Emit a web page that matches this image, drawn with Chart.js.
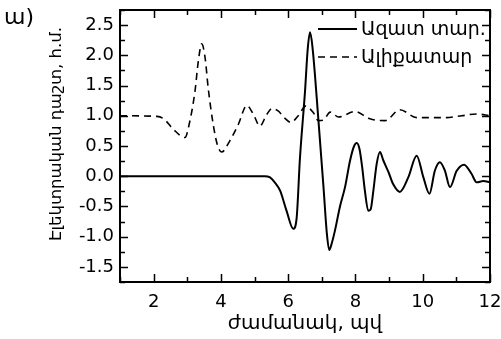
<!DOCTYPE html>
<html>
<head>
<meta charset="utf-8">
<script src="https://cdn.jsdelivr.net/npm/chart.js@4/dist/chart.umd.min.js"></script>
<style>
  html, body { margin: 0; padding: 0; background: #fff; }
  #wrap { width: 501px; height: 339px; }
</style>
</head>
<body>
<div id="wrap"><canvas id="c" width="501" height="339"></canvas></div>
<script>
// free space pulse (solid)
const freeX = [1, 5.3, 5.46, 5.6, 5.76, 5.95, 6.15, 6.25, 6.35, 6.5, 6.58, 6.65, 6.72, 6.9, 7.05, 7.15, 7.22, 7.3, 7.39, 7.54, 7.69, 7.84, 7.96, 8.04, 8.12, 8.2, 8.28, 8.38, 8.45, 8.53, 8.63, 8.73, 8.83, 8.98, 9.12, 9.32, 9.57, 9.82, 10.02, 10.2, 10.36, 10.51, 10.66, 10.81, 11.01, 11.23, 11.45, 11.6, 11.8, 12];
const freeY = [0, 0, -0.02, -0.1, -0.24, -0.57, -0.87, -0.7, 0.3, 1.4, 2.1, 2.38, 2.15, 0.92, -0.18, -0.95, -1.22, -1.1, -0.9, -0.5, -0.18, 0.26, 0.5, 0.55, 0.45, 0.15, -0.24, -0.57, -0.55, -0.25, 0.2, 0.4, 0.26, 0.07, -0.13, -0.26, -0.02, 0.34, -0.02, -0.29, 0.09, 0.23, 0.09, -0.18, 0.09, 0.19, 0.04, -0.1, -0.08, -0.1];

// waveguide pulse (dashed)
const guideX = [1, 2.1, 2.3, 2.58, 2.93, 3.08, 3.23, 3.33, 3.43, 3.53, 3.62, 3.77, 3.89, 4.02, 4.27, 4.52, 4.77, 4.96, 5.16, 5.36, 5.52, 5.7, 5.9, 6.08, 6.3, 6.52, 6.75, 6.9, 7.05, 7.25, 7.5, 7.99, 8.43, 8.88, 9.32, 9.82, 10.2, 10.7, 11.16, 11.6, 12];
const guideY = [1.0, 0.99, 0.95, 0.78, 0.64, 0.92, 1.41, 1.91, 2.19, 1.96, 1.47, 0.86, 0.53, 0.4, 0.59, 0.86, 1.17, 1.03, 0.83, 1.02, 1.12, 1.08, 0.96, 0.89, 1.0, 1.16, 1.05, 0.92, 0.93, 1.06, 0.98, 1.07, 0.95, 0.92, 1.1, 0.97, 0.97, 0.97, 1.0, 1.03, 1.0];

const seriesLabels = ['Ազատ տար.', 'Ալիքատար'];
const xTickValues = [2, 4, 6, 8, 10, 12];
const yTickValues = [-1.5, -1.0, -0.5, 0.0, 0.5, 1.0, 1.5, 2.0, 2.5];
const xTitle = 'ժամանակ, պվ';
const yTitle = 'Էլեկտրական դաշտ, հ.մ.';
const panelLabel = 'ա)';

const FONT = '"DejaVu Sans", sans-serif';

const toPoints = (xs, ys) => xs.map((x, i) => ({ x, y: ys[i] }));

// frame, inward ticks on all sides, legend and extra text
const decor = {
  id: 'decor',
  afterDraw(chart) {
    const { ctx, chartArea: a, scales } = chart;
    const sx = scales.x, sy = scales.y;
    ctx.save();
    ctx.strokeStyle = '#000';
    ctx.lineWidth = 1.5;
    ctx.beginPath();
    for (let v = 1; v <= 12; v++) {
      const px = Math.round(sx.getPixelForValue(v)) + 0.5;
      const len = v % 2 === 0 ? 8 : 5;
      ctx.moveTo(px, a.bottom); ctx.lineTo(px, a.bottom - len);
      ctx.moveTo(px, a.top); ctx.lineTo(px, a.top + len);
    }
    for (let k = -7; k <= 11; k++) {
      const v = k * 0.25;
      const py = Math.round(sy.getPixelForValue(v)) + 0.5;
      const len = k % 2 === 0 ? 8 : 5;
      ctx.moveTo(a.left, py); ctx.lineTo(a.left + len, py);
      ctx.moveTo(a.right, py); ctx.lineTo(a.right - len, py);
    }
    ctx.stroke();
    ctx.lineWidth = 2;
    ctx.strokeRect(a.left, a.top, a.right - a.left, a.bottom - a.top);

    // legend
    ctx.font = '19px ' + FONT;
    ctx.fillStyle = '#000';
    ctx.textBaseline = 'middle';
    ctx.textAlign = 'left';
    chart.data.datasets.forEach((ds, i) => {
      const y = 29 + i * 28;
      ctx.beginPath();
      ctx.setLineDash(ds.borderDash || []);
      ctx.lineWidth = ds.borderWidth;
      ctx.moveTo(318, y); ctx.lineTo(357, y);
      ctx.stroke();
      ctx.setLineDash([]);
      ctx.fillText(ds.label, 361, y + 1);
    });

    // y title
    ctx.save();
    ctx.translate(57, 134);
    ctx.rotate(-Math.PI / 2);
    ctx.textAlign = 'center';
    ctx.font = '16.5px ' + FONT;
    ctx.fillText(yTitle, 0, 0);
    ctx.restore();

    // panel label
    ctx.font = '22px ' + FONT;
    ctx.textAlign = 'left';
    ctx.fillText(panelLabel, 4, 18);
    ctx.restore();
  }
};

new Chart(document.getElementById('c'), {
  type: 'line',
  data: {
    datasets: [
      { label: seriesLabels[0], data: toPoints(freeX, freeY), borderColor: '#000', borderWidth: 2, pointRadius: 0, cubicInterpolationMode: 'monotone', fill: false },
      { label: seriesLabels[1], data: toPoints(guideX, guideY), borderColor: '#000', borderWidth: 1.6, borderDash: [7, 5], pointRadius: 0, cubicInterpolationMode: 'monotone', fill: false }
    ]
  },
  options: {
    responsive: false,
    animation: false,
    devicePixelRatio: 1,
    layout: { padding: { top: 10, right: 11, left: 0, bottom: 0 } },
    plugins: { legend: { display: false }, tooltip: { enabled: false } },
    scales: {
      x: {
        type: 'linear', min: 1, max: 12,
        grid: { display: false, drawTicks: false }, border: { display: false },
        afterBuildTicks: (s) => { s.ticks = xTickValues.map((v) => ({ value: v })); },
        afterFit: (s) => { s.height = 57; s.paddingLeft = 0; s.paddingRight = 0; },
        ticks: { color: '#000', padding: 10, maxRotation: 0, autoSkip: false, font: { family: FONT, size: 18 },
          callback: (v) => (xTickValues.includes(v) ? String(v) : '') },
        title: { display: true, text: xTitle, color: '#000', padding: { top: 0, bottom: 3 }, font: { family: FONT, size: 20 } }
      },
      y: {
        type: 'linear', min: -1.75, max: 2.75,
        grid: { display: false, drawTicks: false }, border: { display: false },
        afterBuildTicks: (s) => { s.ticks = yTickValues.map((v) => ({ value: v })); },
        afterFit: (s) => { s.width = 120; s.paddingTop = 0; s.paddingBottom = 0; },
        ticks: { color: '#000', padding: 6, autoSkip: false, font: { family: FONT, size: 18 }, callback: (v) => Number(v).toFixed(1) }
      }
    }
  },
  plugins: [decor]
});
</script>
</body>
</html>
